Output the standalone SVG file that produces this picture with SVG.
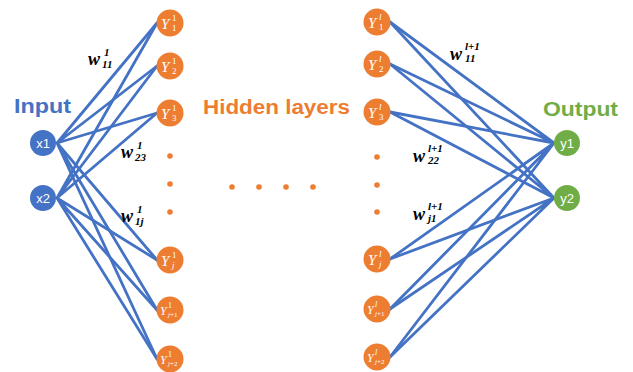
<svg xmlns="http://www.w3.org/2000/svg" width="633" height="372" viewBox="0 0 633 372">
<style>
.e{stroke:#4472C4;stroke-width:2.8;fill:none;stroke-linecap:round}
.in{fill:#4472C4}.hd{fill:#ED7D31}.out{fill:#70AD47}
.nt{font-family:"Liberation Sans",Arial,sans-serif;font-size:13px;fill:#fff;text-anchor:middle}
.Y{font-family:"Liberation Serif","Times New Roman",serif;font-style:italic;fill:#fff}
.s{font-family:"Liberation Serif","Times New Roman",serif;fill:#fff}
.ttl{font-family:"Liberation Sans",Arial,sans-serif;font-weight:bold;font-size:20px}
.w{font-family:"Liberation Serif","Times New Roman",serif;font-weight:bold;font-style:italic;fill:#000}
</style>
<rect width="633" height="372" fill="#fff"/>
<g id="connectors">
<g id="left-edges">
<path class="e" d="M57 143L157 23M57 143L157 66M57 143L157 113M57 143L157 260M57 143L157 310M57 143L157 359"/>
<path class="e" d="M57 198L157 23M57 198L157 66M57 198L157 113M57 198L157 260M57 198L157 310M57 198L157 359"/>
</g>
<g id="right-edges">
<path class="e" d="M390 22L554 143M390 64L554 143M390 112L554 143M390 259L554 143M390 309L554 143M390 357L554 143"/>
<path class="e" d="M390 22L554 198M390 64L554 198M390 112L554 198M390 259L554 198M390 309L554 198M390 357L554 198"/>
</g>
</g>
<g id="titles">
<text class="ttl" x="14" y="113" fill="#4472C4" textLength="57" lengthAdjust="spacingAndGlyphs">Input</text>
<text class="ttl" x="203" y="114" fill="#ED7D31" textLength="147" lengthAdjust="spacingAndGlyphs">Hidden layers</text>
<text class="ttl" x="543" y="116" fill="#70AD47" textLength="75" lengthAdjust="spacingAndGlyphs">Output</text>
</g>
<g id="input-x1"><circle class="in" cx="43" cy="143" r="13"/><text class="nt" x="43" y="148">x1</text></g>
<g id="input-x2"><circle class="in" cx="43" cy="198" r="13"/><text class="nt" x="43" y="203">x2</text></g>
<g id="output-y1"><circle class="out" cx="567" cy="143" r="13"/><text class="nt" x="567" y="148">y1</text></g>
<g id="output-y2"><circle class="out" cx="567" cy="198" r="13"/><text class="nt" x="567" y="203">y2</text></g>

<g id="h1-1"><circle class="hd" cx="170" cy="23" r="13.5"/><text class="Y" x="161" y="29" font-size="15">Y</text><text class="s" x="172" y="21" font-size="9">1</text><text class="s" x="172" y="31" font-size="9">1</text></g>
<g id="h1-2"><circle class="hd" cx="170" cy="66" r="13.5"/><text class="Y" x="161" y="72" font-size="15">Y</text><text class="s" x="172" y="64" font-size="9">1</text><text class="s" x="172" y="74" font-size="9">2</text></g>
<g id="h1-3"><circle class="hd" cx="170" cy="113" r="13.5"/><text class="Y" x="161" y="119" font-size="15">Y</text><text class="s" x="172" y="111" font-size="9">1</text><text class="s" x="172" y="121" font-size="9">3</text></g>
<g id="h1-j"><circle class="hd" cx="170" cy="260" r="13.5"/><text class="Y" x="161" y="266" font-size="15">Y</text><text class="s" x="172" y="258" font-size="9">1</text><text class="Y" x="172" y="268" font-size="9">j</text></g>
<g id="h1-j1"><circle class="hd" cx="170" cy="310" r="13.5"/><text class="Y" x="160" y="315" font-size="12">Y</text><text class="s" x="168" y="308" font-size="8">1</text><text class="s" x="168" y="317" font-size="7"><tspan font-style="italic">j</tspan>+1</text></g>
<g id="h1-j2"><circle class="hd" cx="170" cy="359" r="13.5"/><text class="Y" x="160" y="364" font-size="12">Y</text><text class="s" x="168" y="357" font-size="8">1</text><text class="s" x="168" y="366" font-size="7"><tspan font-style="italic">j</tspan>+2</text></g>

<g id="hl-1"><circle class="hd" cx="377" cy="22" r="13.5"/><text class="Y" x="368" y="28" font-size="15">Y</text><text class="Y" x="379" y="20" font-size="9">l</text><text class="s" x="379" y="30" font-size="9">1</text></g>
<g id="hl-2"><circle class="hd" cx="377" cy="64" r="13.5"/><text class="Y" x="368" y="70" font-size="15">Y</text><text class="Y" x="379" y="62" font-size="9">l</text><text class="s" x="379" y="72" font-size="9">2</text></g>
<g id="hl-3"><circle class="hd" cx="377" cy="112" r="13.5"/><text class="Y" x="368" y="118" font-size="15">Y</text><text class="Y" x="379" y="110" font-size="9">l</text><text class="s" x="379" y="120" font-size="9">3</text></g>
<g id="hl-j"><circle class="hd" cx="377" cy="259" r="13.5"/><text class="Y" x="368" y="265" font-size="15">Y</text><text class="Y" x="379" y="257" font-size="9">l</text><text class="Y" x="379" y="267" font-size="9">j</text></g>
<g id="hl-j1"><circle class="hd" cx="377" cy="309" r="13.5"/><text class="Y" x="367" y="314" font-size="12">Y</text><text class="Y" x="375" y="307" font-size="8">l</text><text class="s" x="375" y="316" font-size="7"><tspan font-style="italic">j</tspan>+1</text></g>
<g id="hl-j2"><circle class="hd" cx="377" cy="357" r="13.5"/><text class="Y" x="367" y="362" font-size="12">Y</text><text class="Y" x="375" y="355" font-size="8">l</text><text class="s" x="375" y="364" font-size="7"><tspan font-style="italic">j</tspan>+2</text></g>

<g id="dots" fill="#ED7D31">
<circle cx="170" cy="156" r="2.8"/><circle cx="170" cy="184" r="2.8"/><circle cx="170" cy="212" r="2.8"/>
<circle cx="377" cy="157" r="2.8"/><circle cx="377" cy="185" r="2.8"/><circle cx="377" cy="212" r="2.8"/>
<circle cx="232" cy="187" r="2.8"/><circle cx="259" cy="187" r="2.8"/><circle cx="286" cy="187" r="2.8"/><circle cx="313" cy="187" r="2.8"/>
</g>

<g id="weights">
<text class="w" x="88" y="65" font-size="18">w</text><text class="w" x="104" y="56" font-size="11">1</text><text class="w" x="102" y="68" font-size="11">11</text>
<text class="w" x="121" y="158" font-size="18">w</text><text class="w" x="137" y="149" font-size="11">1</text><text class="w" x="135" y="161" font-size="11">23</text>
<text class="w" x="121" y="222" font-size="18">w</text><text class="w" x="137" y="213" font-size="11">1</text><text class="w" x="135" y="225" font-size="11">1j</text>
<text class="w" x="450" y="60" font-size="18">w</text><text class="w" x="465" y="50" font-size="11">l+1</text><text class="w" x="465" y="62" font-size="11">11</text>
<text class="w" x="413" y="162" font-size="18">w</text><text class="w" x="428" y="152" font-size="11">l+1</text><text class="w" x="428" y="164" font-size="11">22</text>
<text class="w" x="413" y="220" font-size="18">w</text><text class="w" x="428" y="210" font-size="11">l+1</text><text class="w" x="428" y="222" font-size="11">j1</text>
</g>
</svg>
